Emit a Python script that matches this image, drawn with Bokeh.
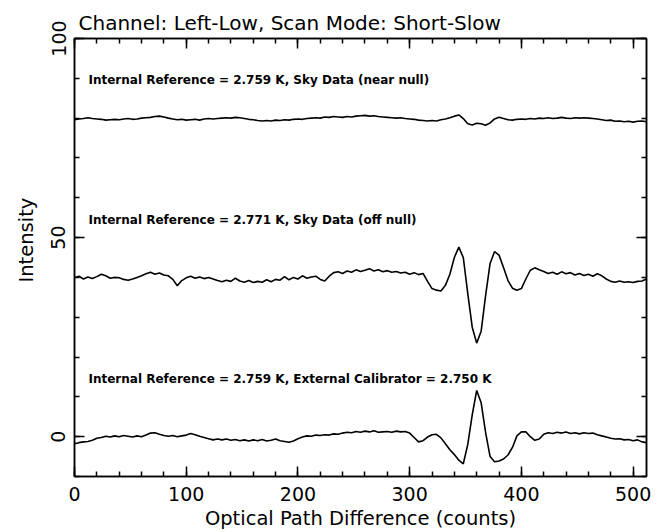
import math
from bokeh.plotting import figure
from bokeh.models import Range1d, LinearAxis, SingleIntervalTicker, Label, Title
from bokeh.embed import file_html
from bokeh.resources import INLINE

# ---------------- data ----------------
opd_counts = list(range(0, 513, 4))

near_null = [
    79.6, 79.8, 79.9, 80.1, 79.9, 79.8, 79.7, 79.5, 79.6, 79.7,
    79.6, 79.8, 79.9, 79.7, 79.8, 80.0, 80.1, 80.2, 80.4, 80.5,
    80.3, 80.0, 79.8, 79.6, 79.7, 79.5, 79.6, 79.7, 79.5, 79.8,
    79.9, 79.8, 79.9, 80.0, 80.1, 80.0, 80.2, 80.1, 79.9, 79.7,
    79.6, 79.4, 79.3, 79.4, 79.3, 79.5, 79.4, 79.6, 79.5, 79.7,
    79.8, 79.7, 79.9, 80.0, 80.1, 80.0, 80.3, 80.2, 80.4, 80.3,
    80.2, 80.4, 80.3, 80.5, 80.6, 80.7, 80.5, 80.6, 80.4, 80.3,
    80.2, 80.1, 80.0, 80.1, 79.9, 79.8, 79.7, 79.5, 79.4, 79.3,
    79.4, 79.3, 79.6, 79.8, 80.1, 80.5, 80.8, 79.9, 78.6, 78.3,
    78.7, 78.6, 78.2, 78.8, 79.8, 80.2, 79.9, 79.6, 79.5, 79.7,
    79.8, 79.7, 79.9, 79.8, 80.0, 79.9, 80.1, 79.9, 80.0, 80.2,
    80.0, 79.9, 80.1, 80.0, 80.1, 80.0, 79.9, 79.8, 79.6, 79.4,
    79.5, 79.2, 79.3, 79.1, 79.2, 79.0, 79.2, 79.3, 79.1,
]

off_null = [
    39.9, 40.3, 39.6, 40.1, 39.7, 40.2, 40.8, 40.4, 39.8, 40.0,
    39.9, 39.5, 39.3, 39.6, 40.0, 40.4, 40.9, 41.3, 40.8, 41.1,
    40.6, 40.4, 39.5, 37.9, 39.2, 39.9, 40.3, 39.8, 40.1, 39.7,
    40.0, 39.6, 39.2, 38.9, 39.3, 39.0, 39.8, 39.1, 38.8, 39.2,
    38.7, 39.0, 38.8, 39.4, 38.9, 39.5, 39.3, 40.2, 39.4, 40.0,
    39.6, 40.4, 39.8, 40.1, 40.3, 39.5, 39.1, 40.3, 41.2, 41.4,
    41.0, 41.6, 41.3, 41.9, 41.5, 41.8, 42.2, 41.6, 41.9, 41.4,
    41.7, 41.3, 41.5, 41.1, 41.3, 40.8, 41.2, 40.7, 41.0, 39.0,
    37.2, 36.8, 36.6, 38.0, 40.8, 45.0, 47.6, 45.0, 36.0, 27.5,
    23.5, 26.5, 35.5, 43.5, 46.5, 45.6, 42.5, 39.2, 37.3, 36.8,
    37.2, 39.6, 41.8, 42.4, 41.9, 41.5, 41.0, 41.3, 40.8, 41.4,
    40.9, 41.2, 40.6, 41.0, 40.5, 40.8, 40.3, 40.9, 40.4, 39.6,
    39.0, 38.8, 39.1, 38.8, 38.9, 38.7, 39.0, 39.1, 39.6,
]

ext_cal = [
    -1.8, -1.5, -1.3, -1.2, -0.9, -0.4, -0.2, 0.1, -0.1, 0.2,
    0.0, 0.3, 0.1, -0.1, 0.2, 0.0, 0.4, 0.9, 1.0, 0.6,
    0.3, 0.1, 0.3, 0.0, 0.2, 0.4, 0.8, 0.5, 0.1, -0.2,
    -0.5, -0.8, -0.6, -0.8, -0.6, -0.9, -0.7, -1.0, -0.8, -1.1,
    -0.8, -1.0, -0.7, -1.1, -0.9, -0.6, -1.0, -1.2, -1.4, -1.1,
    -0.5, -0.1, 0.2, 0.1, 0.4, 0.3, 0.5, 0.4, 0.7, 0.6,
    0.9, 1.1, 1.0, 1.3, 1.1, 1.4, 1.2, 1.5, 1.1, 1.2,
    1.3, 1.1, 1.4, 1.2, 1.3, 0.9, -0.2, -1.3, -1.0, -0.1,
    0.5, 0.6, -0.3, -1.8, -3.3, -4.5, -5.9, -6.8, -2.0, 5.5,
    11.6, 8.5, 1.0, -5.0, -6.3, -6.1, -5.6, -4.6, -2.7, 0.2,
    1.2, 1.2, 0.0, -0.9, -0.6, 0.6, 1.0, 0.8, 1.1, 0.9,
    1.2, 0.8, 1.0, 0.7, 1.0, 0.8, 0.9, 0.5, 0.2, -0.1,
    -0.4, -0.6, -0.5, -0.8, -0.7, -1.0, -0.8, -1.3, -1.5,
]

title_text = "Channel: Left-Low, Scan Mode: Short-Slow"
x_label = "Optical Path Difference (counts)"
y_label = "Intensity"
ann_texts = [
    "Internal Reference = 2.759 K, Sky Data (near null)",
    "Internal Reference = 2.771 K, Sky Data (off null)",
    "Internal Reference = 2.759 K, External Calibrator = 2.750 K",
]
ann_levels = [89.5, 54.5, 14.5]

assert len(near_null) == len(opd_counts)
assert len(off_null) == len(opd_counts)
assert len(ext_cal) == len(opd_counts)

FONT = "DejaVu Sans"

p = figure(width=655, height=532, output_backend="svg", toolbar_location=None,
           x_range=Range1d(0, 512), y_range=Range1d(-10, 100),
           min_border_left=74, min_border_right=9, min_border_top=38,
           min_border_bottom=56, background_fill_color="white",
           border_fill_color="white")

p.title.text = title_text
p.title.text_font = FONT
p.title.text_font_size = "20px"
p.title.text_font_style = "normal"
p.title.text_color = "black"
p.title.align = "left"
p.title.offset = 4
p.title.standoff = 8

p.xgrid.visible = False
p.ygrid.visible = False
p.outline_line_color = "black"
p.outline_line_width = 1.5

for series in (near_null, off_null, ext_cal):
    p.line(opd_counts, series, line_color="black", line_width=1.6)

def style_axis(ax, labels=True):
    ax.axis_line_color = "black"
    ax.axis_line_width = 1.5
    ax.major_tick_in = 10
    ax.major_tick_out = 0
    ax.minor_tick_in = 5
    ax.minor_tick_out = 0
    ax.major_tick_line_color = "black"
    ax.minor_tick_line_color = "black"
    ax.major_tick_line_width = 1.5
    ax.minor_tick_line_width = 1.5
    if labels:
        ax.major_label_text_font = FONT
        ax.major_label_text_font_size = "19px"
        ax.major_label_text_color = "black"
        ax.axis_label_text_font = FONT
        ax.axis_label_text_font_size = "19.5px"
        ax.axis_label_text_font_style = "normal"
        ax.axis_label_text_color = "black"
    else:
        ax.major_label_text_font_size = "1px"
        ax.major_label_text_color = None
        ax.major_label_standoff = 0

p.xaxis.ticker = SingleIntervalTicker(interval=100, num_minor_ticks=5)
p.yaxis.ticker = SingleIntervalTicker(interval=50, num_minor_ticks=5)
p.xaxis.axis_label = x_label
style_axis(p.xaxis[0])
style_axis(p.yaxis[0])
p.xaxis.major_label_standoff = 10
p.xaxis.axis_label_standoff = 3
p.yaxis.major_label_standoff = 9
p.yaxis.major_label_orientation = "parallel"

# y-axis caption, sitting a little above the frame centre as in the reference
p.add_layout(Title(text=y_label, align="left", offset=194, vertical_align="middle",
                   text_font=FONT, text_font_size="19.5px", text_font_style="normal",
                   text_color="black", standoff=20), "left")

top_ax = LinearAxis(ticker=SingleIntervalTicker(interval=100, num_minor_ticks=5))
style_axis(top_ax, labels=False)
p.add_layout(top_ax, "above")
right_ax = LinearAxis(ticker=SingleIntervalTicker(interval=50, num_minor_ticks=5))
style_axis(right_ax, labels=False)
p.add_layout(right_ax, "right")

for txt, lvl in zip(ann_texts, ann_levels):
    p.add_layout(Label(x=12.5, y=lvl, text=txt, text_font=FONT,
                       text_font_size="12px", text_font_style="bold",
                       text_color="black", text_baseline="middle"))

open("out.html", "w").write(file_html(p, INLINE))
